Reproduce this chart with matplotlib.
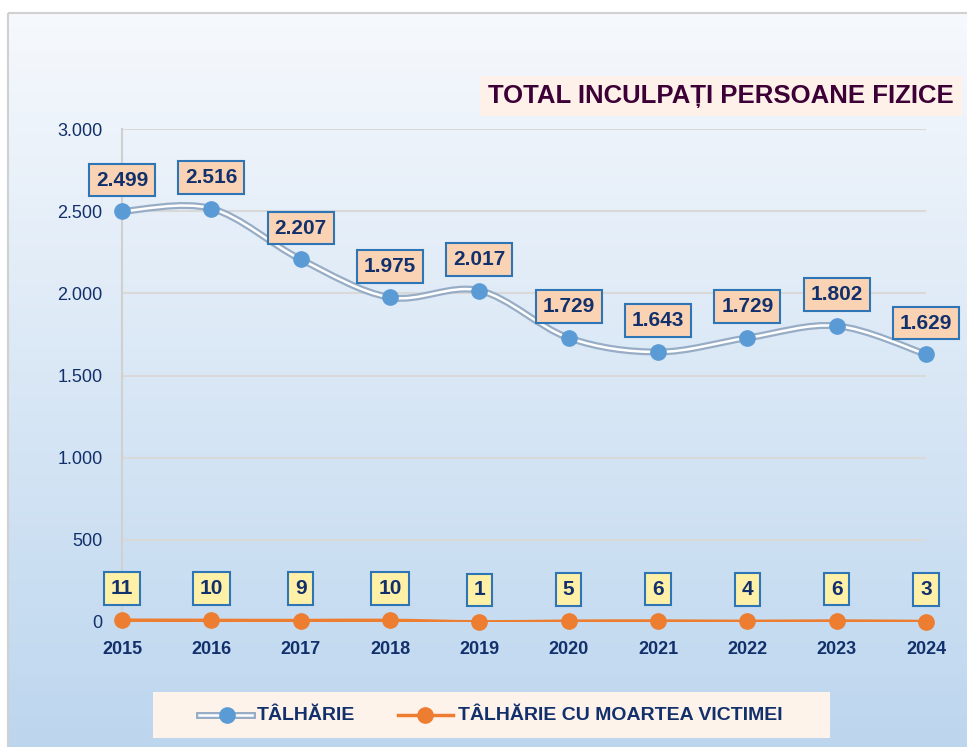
import numpy as np
import matplotlib.pyplot as plt
from matplotlib.path import Path
from matplotlib.patches import PathPatch, Rectangle
from matplotlib.lines import Line2D

# data
years = [2015, 2016, 2017, 2018, 2019, 2020, 2021, 2022, 2023, 2024]
talharie = [2499, 2516, 2207, 1975, 2017, 1729, 1643, 1729, 1802, 1629]
talharie_moarte = [11, 10, 9, 10, 1, 5, 6, 4, 6, 3]
yticks = [0, 500, 1000, 1500, 2000, 2500, 3000]
title = "TOTAL INCULPAȚI PERSOANE FIZICE"
legend_labels = ["TÂLHĂRIE", "TÂLHĂRIE CU MOARTEA VICTIMEI"]

plt.rcParams["font.family"] = ["Liberation Sans", "DejaVu Sans"]

NAVY = "#12306b"
BLUE = "#5b9bd5"
ORANGE = "#ed7d31"
W, H = 967, 747


def smooth_path(x, y):
    # excel-like smoothed line (catmull-rom as cubic bezier)
    pts = np.column_stack([x, y]).astype(float)
    verts = [pts[0]]
    codes = [Path.MOVETO]
    n = len(pts)
    for i in range(n - 1):
        p0 = pts[max(i - 1, 0)]
        p1 = pts[i]
        p2 = pts[i + 1]
        p3 = pts[min(i + 2, n - 1)]
        verts += [p1 + (p2 - p0) / 6, p2 - (p3 - p1) / 6, p2]
        codes += [Path.CURVE4] * 3
    return Path(verts, codes)


def fmt(v):
    return f"{v:,}".replace(",", ".")


fig = plt.figure(figsize=(W / 100, H / 100), dpi=100)

# overlay in pixel coordinates for background, title and legend
ov = fig.add_axes([0, 0, 1, 1], zorder=0)
ov.set_xlim(0, W)
ov.set_ylim(H, 0)
ov.axis("off")
grad = np.linspace(0, 1, 256).reshape(-1, 1)
top = np.array([0.965, 0.975, 0.99])
bot = np.array([0.74, 0.84, 0.935])
img = top + grad[..., None] * (bot - top)
ov.imshow(img, extent=(8, W, H, 13), aspect="auto", zorder=0)
ov.add_patch(Rectangle((8, 13), W, H, fill=False, ec="#d0d0d0", lw=1.5, zorder=1))

ov.text(721, 96, title, ha="center", va="center", fontsize=18.5, fontweight="bold",
        color="#3d0036",
        bbox=dict(boxstyle="square,pad=0.3", fc="#fdf1ea", ec="none"), zorder=3)

# legend
ov.add_patch(Rectangle((153, 692), 677, 46, fc="#fef3ea", ec="none", zorder=2))
ov.add_line(Line2D([199, 252], [715, 715], color="#97adc6", lw=5, zorder=3))
ov.add_line(Line2D([199, 252], [715, 715], color="white", lw=1.8, zorder=3))
ov.add_line(Line2D([227], [715], marker="o", ms=11, color=BLUE, zorder=4))
ov.text(257, 716, legend_labels[0], ha="left", va="center", fontsize=14,
        fontweight="bold", color=NAVY, zorder=4)
ov.add_line(Line2D([398, 453], [715, 715], color=ORANGE, lw=2.5, zorder=3))
ov.add_line(Line2D([425], [715], marker="o", ms=11, color=ORANGE, zorder=4))
ov.text(458, 716, legend_labels[1], ha="left", va="center", fontsize=14,
        fontweight="bold", color=NAVY, zorder=4)

# main chart
ax = fig.add_axes([122 / W, 1 - 622 / H, (926 - 122) / W, (622 - 129) / H], zorder=1)
ax.set_facecolor("none")
ax.set_xlim(years[0], years[-1])
ax.set_ylim(0, 3000)
for s in ["top", "right", "bottom"]:
    ax.spines[s].set_visible(False)
ax.spines["left"].set_color("#d0d0d0")
ax.spines["left"].set_linewidth(1.5)
ax.set_yticks(yticks)
ax.set_yticklabels([fmt(v) for v in yticks], fontsize=13, color=NAVY)
ax.set_xticks(years)
ax.set_xticklabels([str(y) for y in years], fontsize=13, fontweight="bold", color=NAVY)
ax.tick_params(axis="y", length=0, pad=14)
ax.tick_params(axis="x", length=0, pad=14)
ax.grid(axis="y", color="#d9d9d9", lw=1.5)
ax.set_axisbelow(True)

p1 = smooth_path(years, talharie)
ax.add_patch(PathPatch(p1, fill=False, ec="#97adc6", lw=5, zorder=3))
ax.add_patch(PathPatch(p1, fill=False, ec="white", lw=1.8, zorder=3))
ax.plot(years, talharie, "o", ms=11, color=BLUE, zorder=4, clip_on=False)

p2 = smooth_path(years, talharie_moarte)
ax.add_patch(PathPatch(p2, fill=False, ec=ORANGE, lw=2.5, zorder=3))
ax.plot(years, talharie_moarte, "o", ms=11, color=ORANGE, zorder=4, clip_on=False)

for x, v in zip(years, talharie):
    ax.annotate(fmt(v), (x, v), xytext=(0, 22.5), textcoords="offset points",
                ha="center", va="center", fontsize=15, fontweight="bold", color=NAVY,
                bbox=dict(boxstyle="square,pad=0.33", fc="#fad3b4", ec="#2e75b6", lw=1.5),
                zorder=5, annotation_clip=False)
for x, v in zip(years, talharie_moarte):
    ax.annotate(str(v), (x, v), xytext=(0, 23), textcoords="offset points",
                ha="center", va="center", fontsize=15, fontweight="bold", color=NAVY,
                bbox=dict(boxstyle="square,pad=0.33", fc="#fff0a8", ec="#2e75b6", lw=1.5),
                zorder=5, annotation_clip=False)

fig.savefig("out.png", dpi=100)
